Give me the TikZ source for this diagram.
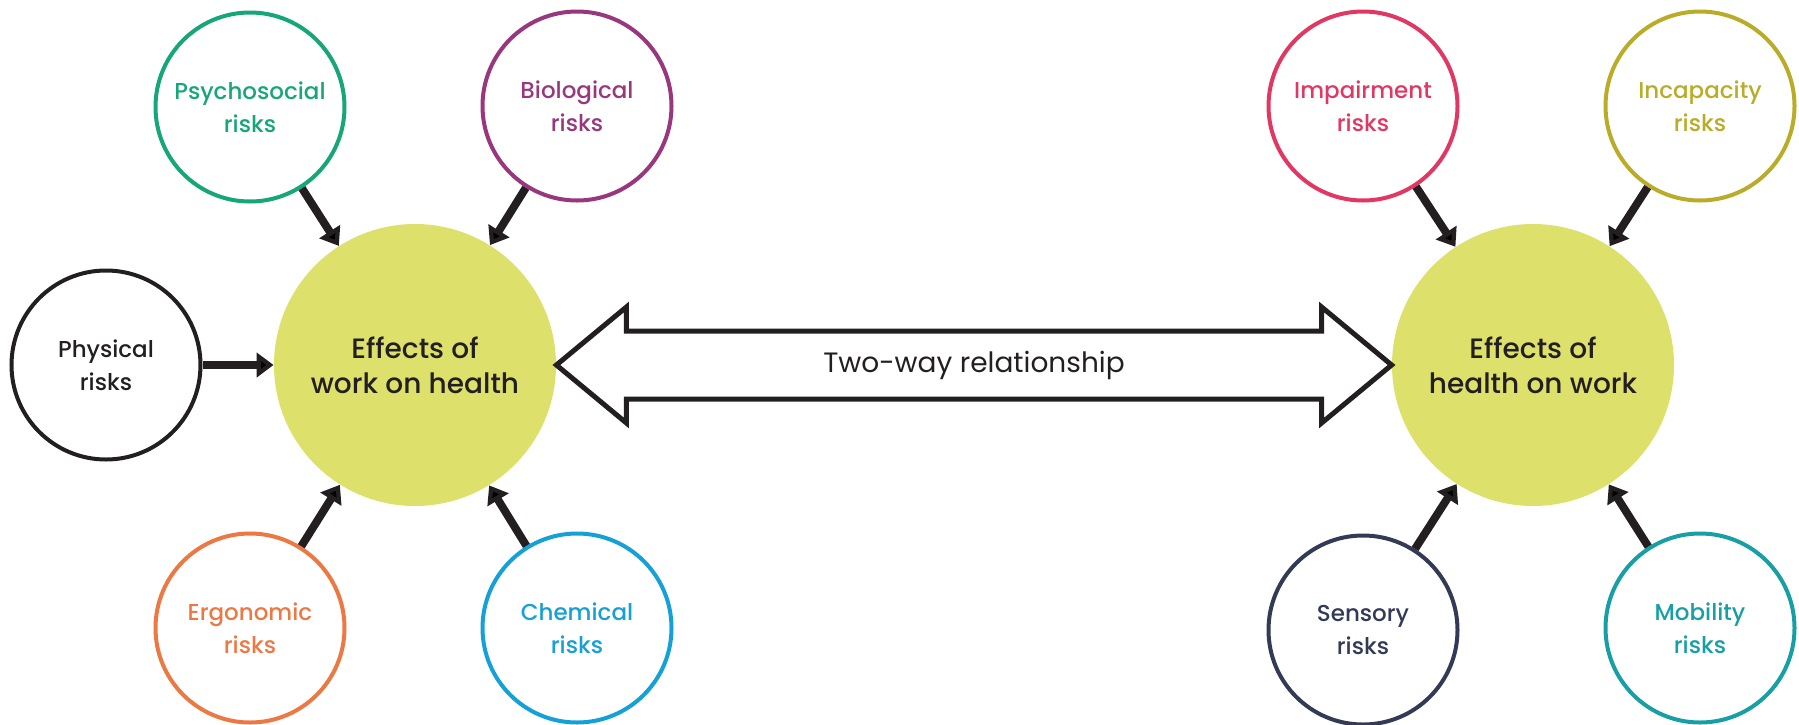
\documentclass[tikz,border=0pt]{standalone}
\usepackage{fontspec}
\setmainfont{Poppins}
\newfontfamily\medfont{Poppins Medium}
\usetikzlibrary{positioning,arrows.meta,calc}

\definecolor{hubfill}{RGB}{221,224,106}
\definecolor{inkcol}{RGB}{35,31,32}
\definecolor{psycol}{RGB}{22,166,120}
\definecolor{biocol}{RGB}{152,55,125}
\definecolor{phycol}{RGB}{35,31,32}
\definecolor{ergcol}{RGB}{236,120,68}
\definecolor{chemcol}{RGB}{22,160,216}
\definecolor{impcol}{RGB}{224,56,98}
\definecolor{inccol}{RGB}{184,172,40}
\definecolor{sencol}{RGB}{50,58,86}
\definecolor{mobcol}{RGB}{24,159,166}

\begin{document}
\begin{tikzpicture}[on grid,
    hub/.style={circle,fill=hubfill,minimum size=141pt,inner sep=0pt,align=center,
      text=inkcol,font=\medfont\fontsize{14}{17.5}\selectfont},
    risk/.style={circle,draw=#1,text=#1,line width=2pt,minimum size=94.5pt,inner sep=0pt,
      align=center,font=\medfont\fontsize{11.5}{16.5}\selectfont},
    feed/.style={-{Triangle[length=8.5pt,width=12pt]},line width=4pt,draw=inkcol},
    twoway/.style={draw=inkcol,line width=2.5pt,line join=miter}]
  \useasboundingbox (0,0) rectangle (899.5pt,-362pt);

  % the two hubs
  \node[hub] (work) at (207.5pt,-182.5pt) {Effects of\\work on health};
  \node[hub] (health) at (766.5pt,-182.5pt) {Effects of\\health on work};

  % risks on work
  \node[risk=psycol] (psy) [above left=129pt and 82.5pt of work] {Psychosocial\\risks};
  \node[risk=biocol] (bio) [above right=129.5pt and 81pt of work] {Biological\\risks};
  \node[risk=phycol] (phy) [left=154.5pt of work] {Physical\\risks};
  \node[risk=ergcol] (erg) [below left=131.5pt and 82.5pt of work] {Ergonomic\\risks};
  \node[risk=chemcol] (chem) [below right=131.5pt and 81pt of work] {Chemical\\risks};

  % risks on health
  \node[risk=impcol] (imp) [above left=129.5pt and 85pt of health] {Impairment\\risks};
  \node[risk=inccol] (inc) [above right=129.5pt and 83.5pt of health] {Incapacity\\risks};
  \node[risk=sencol] (sen) [below left=132.5pt and 85pt of health] {Sensory\\risks};
  \node[risk=mobcol] (mob) [below right=131.5pt and 83.5pt of health] {Mobility\\risks};

  \path[feed]
    (psy) edge (work)
    (bio) edge (work)
    (phy) edge (work)
    (erg) edge (work)
    (chem) edge (work)
    (imp) edge (health)
    (inc) edge (health)
    (sen) edge (health)
    (mob) edge (health)
    ;

  % two-way arrow
  \draw[twoway] (work.east) -- ++(35pt,29pt) -- ++(0,-12pt)
    -- ([xshift=-35pt,yshift=17pt]health.west) -- ++(0,12pt) -- (health.west)
    -- ++(-35pt,-29pt) -- ++(0,12pt)
    -- ([xshift=35pt,yshift=-17pt]work.east) -- ++(0,-12pt) -- cycle;
  \node[text=inkcol,font=\fontsize{14}{17}\selectfont] (rel) at ($(work)!.5!(health)$) {Two-way relationship};
\end{tikzpicture}
\end{document}
